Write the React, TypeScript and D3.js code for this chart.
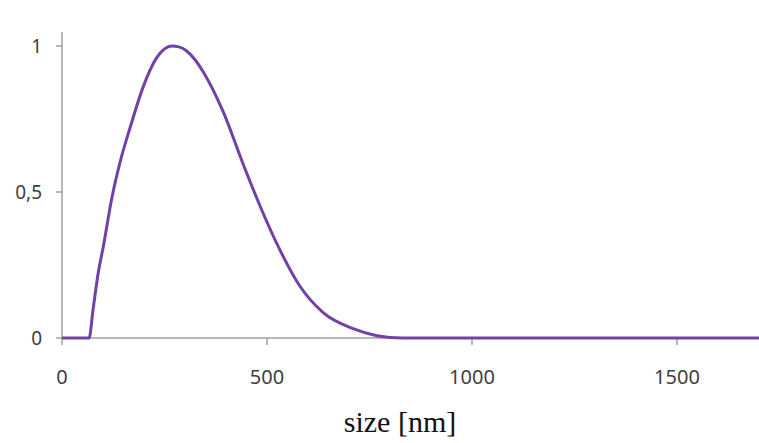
import React from "react";
import * as d3 from "d3";

const sizes = [0, 66, 76, 88, 101, 121, 145, 166, 198, 231, 250, 267, 285, 304, 325, 345, 393, 442, 483, 532, 580, 637, 710, 768, 830, 1000, 1700];
const intensity = [0, 0, 0.1, 0.22, 0.315, 0.475, 0.62, 0.72, 0.86, 0.96, 0.99, 1.0, 0.997, 0.983, 0.952, 0.91, 0.775, 0.595, 0.452, 0.3, 0.178, 0.087, 0.032, 0.008, 0, 0, 0];
const xTicks = [0, 500, 1000, 1500];
const xTickLabels = ["0", "500", "1000", "1500"];
const yTicks = [0, 0.5, 1];
const yTickLabels = ["0", "0,5", "1"];
const xLabel = "size [nm]";

const W = 759;
const H = 443;

export default function App() {
  const x = d3.scaleLinear().domain([0, 1700]).range([62, 759]);
  const y = d3.scaleLinear().domain([0, 1]).range([338, 46]);
  const data = sizes.map((s, i) => [s, intensity[i]] as [number, number]);
  const line = d3
    .line<[number, number]>()
    .x((d) => x(d[0]))
    .y((d) => y(d[1]))
    .curve(d3.curveMonotoneX);
  const axisColor = "#a0a0a0";
  const textColor = "#404040";
  return (
    <svg width={W} height={H} style={{ position: "absolute", left: 0, top: 0, background: "#fff" }}>
      {/* y axis */}
      <line x1={x(0)} x2={x(0)} y1={32} y2={y(0)} stroke={axisColor} strokeWidth={1.5} />
      {yTicks.map((t, i) => (
        <g key={"y" + t}>
          <line x1={x(0) - 6} x2={x(0)} y1={y(t)} y2={y(t)} stroke={axisColor} strokeWidth={1.5} />
          <text x={42} y={y(t)} dy="0.35em" textAnchor="end" fontFamily="'Noto Sans', sans-serif" fontSize={19} fill={textColor}>
            {yTickLabels[i]}
          </text>
        </g>
      ))}
      {/* x axis */}
      <line x1={x(0)} x2={W} y1={y(0)} y2={y(0)} stroke={axisColor} strokeWidth={1.5} />
      {xTicks.map((t, i) => (
        <g key={"x" + t}>
          <line x1={x(t)} x2={x(t)} y1={y(0)} y2={y(0) + 7} stroke={axisColor} strokeWidth={1.5} />
          <text x={x(t)} y={377} dy="0.35em" textAnchor="middle" fontFamily="'Noto Sans', sans-serif" fontSize={20} fill={textColor}>
            {xTickLabels[i]}
          </text>
        </g>
      ))}
      <path d={line(data) || ""} fill="none" stroke="#7042a8" strokeWidth={3} strokeLinejoin="round" />
      <text x={400} y={432} textAnchor="middle" fontFamily="'Liberation Serif', 'Times New Roman', serif" fontSize={30} fill="#111">
        {xLabel}
      </text>
    </svg>
  );
}
